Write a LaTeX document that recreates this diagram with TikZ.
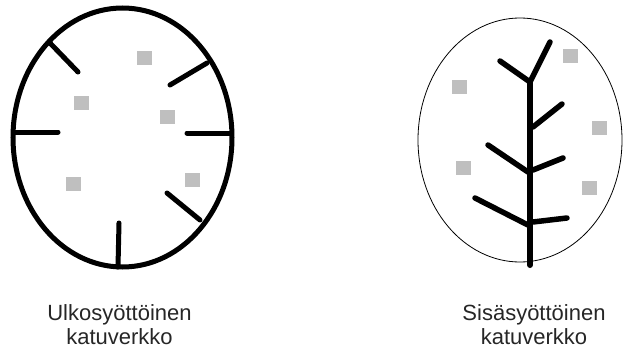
\documentclass[tikz,border=0pt]{standalone}
\usepackage{fontspec}
\setmainfont{Liberation Sans}
\tikzset{
  spoke/.style={line width=5pt, line cap=round},
  branch/.style={line width=5.5pt, line cap=round, line join=round},
  lot/.style={fill=black!25, draw=none},
  caption/.style={align=center, font=\fontsize{22}{24}\selectfont, text=black!85, inner sep=0pt, anchor=base}
}
\newcommand{\lotsq}[2]{\fill[lot] (#1-7.5,#2-7) rectangle (#1+7.5,#2+7);}
\begin{document}
\begin{tikzpicture}[x=1pt,y=-1pt]
\useasboundingbox (0,0) rectangle (627,351);
% left: outer-fed network
\draw[line width=5pt] (122.5,137.5) ellipse [x radius=109.5, y radius=129.5];
\draw[spoke] (50,43) -- (78,72);
\draw[spoke] (207,63) -- (170,85);
\draw[spoke] (15,132) -- (58,132);
\draw[spoke] (230,133) -- (187,133);
\draw[spoke] (200,220) -- (167,193);
\draw[spoke] (118,267) -- (119,223);
\lotsq{144}{58}
\lotsq{81}{103}
\lotsq{167}{117}
\lotsq{73}{184}
\lotsq{192}{180}
% right: inner-fed network
\draw[line width=0.8pt] (520,140) ellipse [x radius=102, y radius=122];
\draw[branch, line width=6pt] (530,82) -- (530,265);
\draw[branch] (500,61) -- (530,82) -- (550,42);
\draw[branch] (533,127) -- (562,104);
\draw[branch] (528,172) -- (488,145);
\draw[branch] (533,170) -- (563,158);
\draw[branch] (528,225) -- (475,198);
\draw[branch] (533,222) -- (567,218);
\lotsq{570}{56}
\lotsq{459}{87}
\lotsq{599}{128}
\lotsq{463}{168}
\lotsq{589}{188}
% captions
\node[caption] (capL1) at (119.5,320) {Ulkosyöttöinen};
\node[caption] (capL2) at (119.5,344) {katuverkko};
\node[caption] (capR1) at (534,320) {Sisäsyöttöinen};
\node[caption] (capR2) at (534,344) {katuverkko};
\end{tikzpicture}
\end{document}
